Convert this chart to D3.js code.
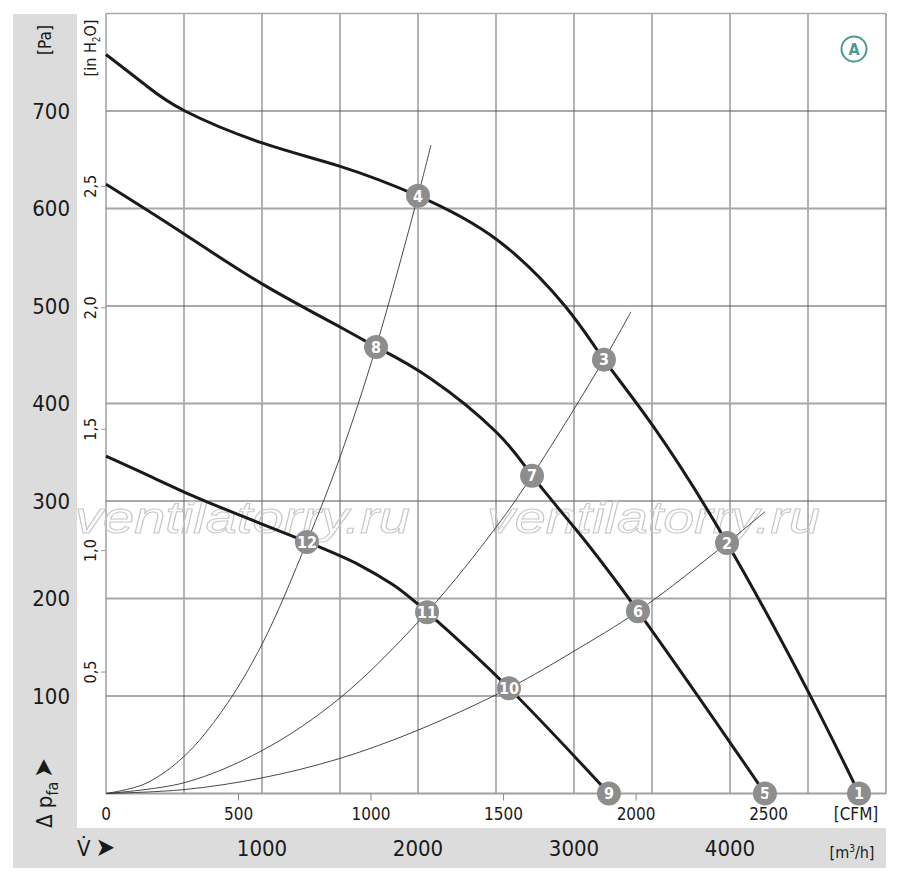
<!DOCTYPE html>
<html>
<head>
<meta charset="utf-8">
<script src="https://cdn.jsdelivr.net/npm/d3@7"></script>
<style>
  body { margin: 0; background: #fff; }
  svg text { font-family: "Liberation Sans Narrow", "DejaVu Sans Condensed", "Arial Narrow", sans-serif; fill: #1a1a1a; }
</style>
</head>
<body>
<div id="chart"></div>
<script>
// fan curves: [m3/h, Pa]
const fanHigh = [[0, 758], [250, 727], [506, 700], [1006, 667], [1506, 643], [2000, 613], [2506, 568],
    [2942, 500], [3192, 445], [3506, 377], [3981, 257], [4506, 103], [4827, 0]];
const fanMid = [[0, 625], [462, 578], [987, 524], [1506, 478], [1731, 458], [2077, 426], [2506, 370],
    [2731, 326], [3006, 272], [3410, 187], [4006, 51], [4224, 0]];
const fanLow = [[0, 346], [327, 322], [647, 299], [1288, 258], [1628, 234], [1840, 214], [2058, 186],
    [2583, 108], [3224, 0]];

// system resistance curves
const sysA = [[0, 0], [250, 10], [500, 38], [750, 86], [1000, 153], [1288, 258], [1500, 345], [1731, 458],
    [2000, 613], [2083, 665]];
const sysB = [[0, 0], [500, 11], [1000, 44], [1500, 98], [2058, 186], [2500, 273], [2731, 326],
    [3192, 445], [3365, 494]];
const sysC = [[0, 0], [500, 4], [1000, 16], [1500, 36], [2000, 65], [2583, 108], [3000, 146],
    [3410, 187], [3981, 257], [4224, 289]];

// numbered operating points
const markers = [
    { n: 1, v: 4827, p: 0 }, { n: 2, v: 3981, p: 257 }, { n: 3, v: 3192, p: 445 }, { n: 4, v: 2000, p: 613 },
    { n: 5, v: 4224, p: 0 }, { n: 6, v: 3410, p: 187 }, { n: 7, v: 2731, p: 326 }, { n: 8, v: 1731, p: 458 },
    { n: 9, v: 3224, p: 0 }, { n: 10, v: 2583, p: 108 }, { n: 11, v: 2058, p: 186 }, { n: 12, v: 1288, p: 258 }
];

const paTicks = [100, 200, 300, 400, 500, 600, 700];
const inchTicks = [0.5, 1.0, 1.5, 2.0, 2.5];
const cfmTicks = [0, 500, 1000, 1500, 2000, 2500];
const m3hTicks = [1000, 2000, 3000, 4000];
const gridV = [500, 1000, 1500, 2000, 2500, 3000, 3500, 4000, 4500];

const W = 900, H = 880;
const plot = { left: 106, right: 886, top: 13.5, bottom: 793.5 };

const svg = d3.select("#chart").append("svg")
    .attr("width", W)
    .attr("height", H);

const x = d3.scaleLinear().domain([0, 5000]).range([plot.left, plot.right]);
const y = d3.scaleLinear().domain([0, 800]).range([plot.bottom, plot.top]);
const xCfm = d3.scaleLinear().domain([0, 5000 / 1.699]).range([plot.left, plot.right]);
const yIn = d3.scaleLinear().domain([0, 800 / 249.09]).range([plot.bottom, plot.top]);

// grey panels
svg.append("rect").attr("x", 13).attr("y", 14).attr("width", 64).attr("height", 854).attr("fill", "#dcdcdd");
svg.append("rect").attr("x", 13).attr("y", 828).attr("width", 873).attr("height", 40).attr("fill", "#dcdcdd");

// grid
const grid = svg.append("g");
grid.selectAll(".gv").data(gridV).enter().append("line")
    .attr("x1", d => x(d)).attr("x2", d => x(d))
    .attr("y1", plot.top).attr("y2", plot.bottom)
    .attr("stroke", "#808080").attr("stroke-width", 1.2);
grid.selectAll(".gh").data(paTicks).enter().append("line")
    .attr("x1", plot.left).attr("x2", plot.right)
    .attr("y1", d => y(d)).attr("y2", d => y(d))
    .attr("stroke", d => (d / 100) % 2 === 0 ? "#a6a6a6" : "#555")
    .attr("stroke-width", d => (d / 100) % 2 === 0 ? 1.8 : 1);

// frame
grid.append("line").attr("x1", plot.left).attr("x2", plot.right).attr("y1", plot.top).attr("y2", plot.top)
    .attr("stroke", "#aaa").attr("stroke-width", 1.5);
grid.append("line").attr("x1", plot.left).attr("x2", plot.right).attr("y1", plot.bottom).attr("y2", plot.bottom)
    .attr("stroke", "#a0a0a0").attr("stroke-width", 2);
grid.append("line").attr("x1", plot.left).attr("x2", plot.left).attr("y1", plot.top).attr("y2", plot.bottom)
    .attr("stroke", "#888").attr("stroke-width", 1.2);
grid.append("line").attr("x1", plot.right).attr("x2", plot.right).attr("y1", plot.top).attr("y2", plot.bottom)
    .attr("stroke", "#777").attr("stroke-width", 1.2);

// watermark
[[75, 410], [487, 820]].forEach(([x0, x1]) => {
    svg.append("text")
        .attr("x", x0).attr("y", 533)
        .attr("textLength", x1 - x0)
        .attr("lengthAdjust", "spacingAndGlyphs")
        .style("font-family", "'Liberation Sans', Arial, sans-serif")
        .style("font-style", "italic")
        .style("font-size", "44px")
        .style("fill", "none")
        .style("stroke", "#c8c8c8")
        .style("stroke-width", 1)
        .text("ventilatorry.ru");
});

// curves
const sysLine = d3.line()
    .x(d => x(d[0]))
    .y(d => y(d[1]))
    .curve(d3.curveCatmullRom.alpha(0.5));
const fanLine = d3.line()
    .x(d => x(d[0]))
    .y(d => y(d[1]))
    .curve(d3.curveNatural);

svg.selectAll(".sys").data([sysA, sysB, sysC]).enter().append("path")
    .attr("d", sysLine)
    .attr("fill", "none")
    .attr("stroke", "#333")
    .attr("stroke-width", 0.9);

svg.selectAll(".fan").data([fanHigh, fanMid, fanLow]).enter().append("path")
    .attr("d", fanLine)
    .attr("fill", "none")
    .attr("stroke", "#1a1a1a")
    .attr("stroke-width", 3);

// markers
const mk = svg.selectAll(".mk").data(markers).enter().append("g")
    .attr("transform", d => `translate(${x(d.v)},${y(d.p)})`);
mk.append("circle").attr("r", 12).attr("fill", "#8d8d8d");
mk.append("text")
    .attr("text-anchor", "middle")
    .attr("dy", "0.36em")
    .style("font-size", "16px")
    .style("font-weight", "bold")
    .style("fill", "#fff")
    .text(d => d.n);

// Pa axis labels
svg.selectAll(".pa").data(paTicks).enter().append("text")
    .attr("x", 70).attr("y", d => y(d))
    .attr("dy", "0.36em")
    .attr("text-anchor", "end")
    .style("font-size", "22px")
    .text(d => d);

svg.append("text")
    .attr("transform", "translate(51,40) rotate(-90)")
    .attr("text-anchor", "middle")
    .style("font-size", "17px")
    .text("[Pa]");

// inch H2O axis
svg.selectAll(".inl").data(inchTicks).enter().append("text")
    .attr("transform", d => `translate(96,${yIn(d)}) rotate(-90)`)
    .attr("text-anchor", "middle")
    .style("font-size", "16px")
    .text(d => d.toFixed(1).replace(".", ","));
svg.selectAll(".int").data(inchTicks).enter().append("line")
    .attr("x1", 101).attr("x2", 106)
    .attr("y1", d => yIn(d)).attr("y2", d => yIn(d))
    .attr("stroke", "#999").attr("stroke-width", 1);

const inLabel = svg.append("text")
    .attr("transform", "translate(96,48) rotate(-90)")
    .attr("text-anchor", "middle")
    .style("font-size", "16px");
inLabel.append("tspan").text("[in H");
inLabel.append("tspan").attr("dy", 4).style("font-size", "10px").text("2");
inLabel.append("tspan").attr("dy", -4).text("O]");

// Δ p_fa label
const dp = svg.append("text")
    .attr("transform", "translate(52,828) rotate(-90)")
    .attr("text-anchor", "start")
    .style("font-size", "22px");
dp.append("tspan").text("Δ p");
dp.append("tspan").attr("dy", 6).style("font-size", "16px").text("fa");
dp.append("tspan").attr("dy", -6).attr("dx", 4).style("font-size", "26px").text("➤");

// CFM axis
svg.selectAll(".ct").data(cfmTicks.slice(1)).enter().append("line")
    .attr("x1", d => xCfm(d)).attr("x2", d => xCfm(d))
    .attr("y1", plot.bottom).attr("y2", plot.bottom + 7)
    .attr("stroke", "#888").attr("stroke-width", 1);
svg.selectAll(".cl").data(cfmTicks).enter().append("text")
    .attr("x", d => xCfm(d)).attr("y", 820)
    .attr("text-anchor", "middle")
    .style("font-size", "17px")
    .text(d => d);
svg.append("text")
    .attr("x", 856).attr("y", 820)
    .attr("text-anchor", "middle")
    .style("font-size", "17px")
    .text("[CFM]");

// m3/h axis
svg.selectAll(".ml").data(m3hTicks).enter().append("text")
    .attr("x", d => x(d)).attr("y", 856)
    .attr("text-anchor", "middle")
    .style("font-size", "22px")
    .text(d => d);
const vdot = svg.append("text")
    .attr("x", 77).attr("y", 856)
    .style("font-size", "22px");
vdot.append("tspan").text("V̇");
vdot.append("tspan").attr("dx", 5).style("font-size", "26px").text("➤");
const unit = svg.append("text")
    .attr("x", 852).attr("y", 858)
    .attr("text-anchor", "middle")
    .style("font-size", "16px");
unit.append("tspan").text("[m");
unit.append("tspan").attr("dy", -6).style("font-size", "10px").text("3");
unit.append("tspan").attr("dy", 6).text("/h]");

// badge A
const badge = svg.append("g").attr("transform", "translate(854,49)");
badge.append("circle").attr("r", 12.5).attr("fill", "#fff").attr("stroke", "#4a9b91").attr("stroke-width", 2);
badge.append("text")
    .attr("text-anchor", "middle")
    .attr("dy", "0.36em")
    .style("font-size", "16px")
    .style("font-weight", "bold")
    .style("fill", "#4a9b91")
    .text("A");
</script>
</body>
</html>
